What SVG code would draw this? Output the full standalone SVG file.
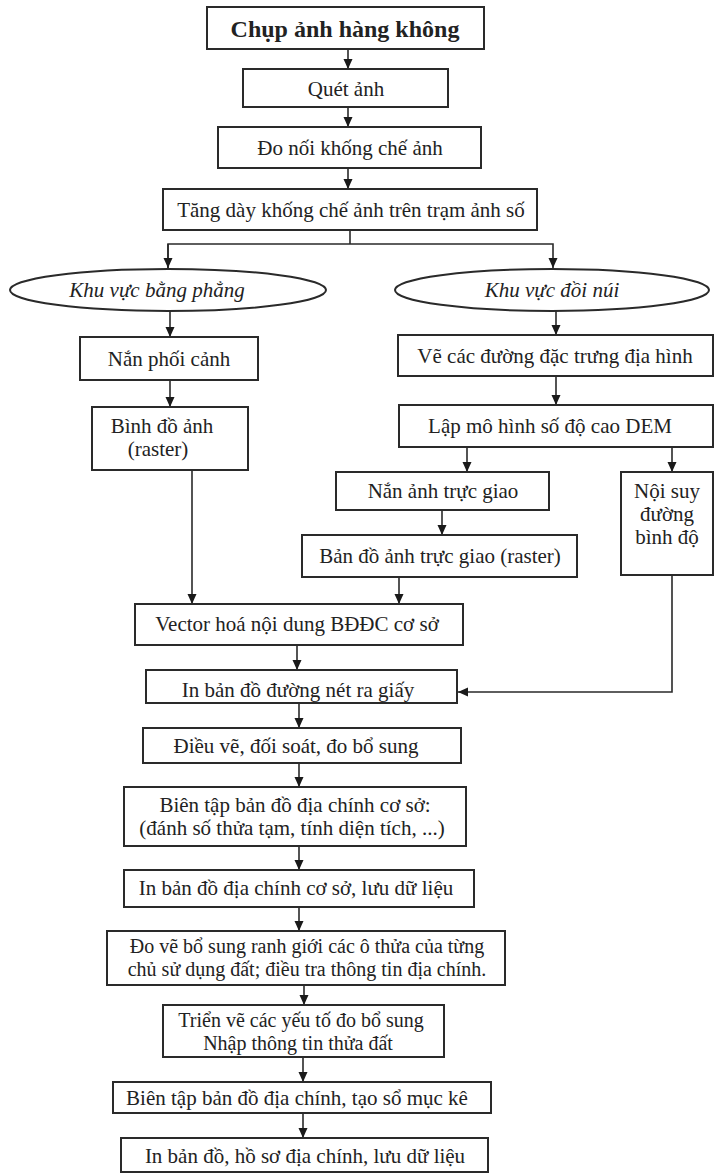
<svg xmlns="http://www.w3.org/2000/svg" width="715" height="1174" viewBox="0 0 715 1174">
<style>
.bg{fill:#ffffff}
.box{fill:#ffffff;stroke:#2a2a2a;stroke-width:2}
.t{font-family:"Liberation Serif","Times New Roman",serif;font-size:21px;fill:#222;text-anchor:middle}
.ti{font-style:italic}
.tb{font-weight:bold;font-size:24px}
.ts{font-size:20px}
.c{fill:none;stroke:#2a2a2a;stroke-width:1.6}
</style>
<defs>
<marker id="ah" markerUnits="userSpaceOnUse" markerWidth="10" markerHeight="10" refX="10" refY="5" orient="auto">
<path d="M0,0.5 L10,5 L0,9.5 z" fill="#1a1a1a"/>
</marker>
</defs>
<rect class="bg" x="0" y="0" width="715" height="1174"/>

<g id="connectors">
<line class="c" x1="348" y1="49" x2="348" y2="69" marker-end="url(#ah)"/>
<line class="c" x1="348" y1="107" x2="348" y2="127" marker-end="url(#ah)"/>
<line class="c" x1="348" y1="168" x2="348" y2="189" marker-end="url(#ah)"/>
<polyline class="c" points="350,230 350,244"/>
<polyline class="c" points="168,268 168,244 553,244 553,268" marker-end="url(#ah)"/>
<line class="c" x1="168" y1="244" x2="168" y2="268" marker-end="url(#ah)"/>
<line class="c" x1="170" y1="311" x2="170" y2="337" marker-end="url(#ah)"/>
<line class="c" x1="556" y1="311" x2="556" y2="335" marker-end="url(#ah)"/>
<line class="c" x1="170" y1="380" x2="170" y2="407" marker-end="url(#ah)"/>
<line class="c" x1="192" y1="470" x2="192" y2="604" marker-end="url(#ah)"/>
<line class="c" x1="556" y1="376" x2="556" y2="405" marker-end="url(#ah)"/>
<line class="c" x1="467" y1="447" x2="467" y2="472" marker-end="url(#ah)"/>
<line class="c" x1="672" y1="447" x2="672" y2="472" marker-end="url(#ah)"/>
<line class="c" x1="442" y1="510" x2="442" y2="535" marker-end="url(#ah)"/>
<line class="c" x1="399" y1="577" x2="399" y2="604" marker-end="url(#ah)"/>
<line class="c" x1="297" y1="645" x2="297" y2="670" marker-end="url(#ah)"/>
<polyline class="c" points="672,575 672,692 458,692" marker-end="url(#ah)"/>
<line class="c" x1="299" y1="703" x2="299" y2="728" marker-end="url(#ah)"/>
<line class="c" x1="299" y1="763" x2="299" y2="787" marker-end="url(#ah)"/>
<line class="c" x1="299" y1="846" x2="299" y2="870" marker-end="url(#ah)"/>
<line class="c" x1="299" y1="907" x2="299" y2="931" marker-end="url(#ah)"/>
<line class="c" x1="304" y1="985" x2="304" y2="1005" marker-end="url(#ah)"/>
<line class="c" x1="303" y1="1057" x2="303" y2="1082" marker-end="url(#ah)"/>
<line class="c" x1="303" y1="1113" x2="303" y2="1138" marker-end="url(#ah)"/>
</g>

<g id="n1"><rect class="box" x="207" y="7" width="277" height="42"/><text class="t tb" x="345" y="37">Chụp ảnh hàng không</text></g>
<g id="n2"><rect class="box" x="243" y="69" width="205" height="38"/><text class="t" x="346" y="96">Quét ảnh</text></g>
<g id="n3"><rect class="box" x="218" y="127" width="263" height="41"/><text class="t" x="350" y="155">Đo nối khống chế ảnh</text></g>
<g id="n4"><rect class="box" x="163" y="189" width="374" height="41"/><text class="t" x="351" y="217">Tăng dày khống chế ảnh trên trạm ảnh số</text></g>
<g id="e1"><ellipse class="box" cx="168" cy="290" rx="158" ry="21"/><text class="t ti" x="157" y="297">Khu vực bằng phẳng</text></g>
<g id="e2"><ellipse class="box" cx="552" cy="290" rx="157" ry="21"/><text class="t ti" x="552" y="297">Khu vực đồi núi</text></g>
<g id="n5"><rect class="box" x="80" y="337" width="178" height="43"/><text class="t" x="169" y="366">Nắn phối cảnh</text></g>
<g id="n6"><rect class="box" x="92" y="407" width="156" height="63"/><text class="t" x="162" y="433">Bình đồ ảnh</text><text class="t" x="158" y="456">(raster)</text></g>
<g id="n7"><rect class="box" x="398" y="335" width="315" height="41"/><text class="t" x="555" y="363">Vẽ các đường đặc trưng địa hình</text></g>
<g id="n8"><rect class="box" x="399" y="405" width="314" height="42"/><text class="t" x="550" y="433">Lập mô hình số độ cao DEM</text></g>
<g id="n9"><rect class="box" x="336" y="472" width="213" height="38"/><text class="t" x="443" y="498">Nắn ảnh trực giao</text></g>
<g id="n10"><rect class="box" x="621" y="472" width="92" height="103"/><text class="t" x="667" y="498">Nội suy</text><text class="t" x="667" y="521">đường</text><text class="t" x="667" y="544">bình độ</text></g>
<g id="n11"><rect class="box" x="302" y="535" width="275" height="42"/><text class="t" x="440" y="563">Bản đồ ảnh trực giao (raster)</text></g>
<g id="n12"><rect class="box" x="135" y="604" width="328" height="41"/><text class="t" x="297" y="631">Vector hoá nội dung BĐĐC cơ sở</text></g>
<g id="n13"><rect class="box" x="146" y="670" width="311" height="33"/><text class="t" x="298" y="697">In bản đồ đường nét ra giấy</text></g>
<g id="n14"><rect class="box" x="143" y="728" width="318" height="35"/><text class="t" x="296" y="753">Điều vẽ, đối soát, đo bổ sung</text></g>
<g id="n15"><rect class="box" x="124" y="787" width="342" height="59"/><text class="t" x="295" y="812">Biên tập bản đồ địa chính cơ sở:</text><text class="t" x="292" y="835">(đánh số thửa tạm, tính diện tích, ...)</text></g>
<g id="n16"><rect class="box" x="124" y="870" width="350" height="37"/><text class="t" x="296" y="895">In bản đồ địa chính cơ sở, lưu dữ liệu</text></g>
<g id="n17"><rect class="box" x="107" y="931" width="398" height="54"/><text class="t ts" x="307" y="953">Đo vẽ bổ sung ranh giới các ô thửa của từng</text><text class="t ts" x="307" y="976">chủ sử dụng đất; điều tra thông tin địa chính.</text></g>
<g id="n18"><rect class="box" x="163" y="1005" width="281" height="52"/><text class="t ts" x="301" y="1027">Triển vẽ các yếu tố đo bổ sung</text><text class="t ts" x="298" y="1050">Nhập thông tin thửa đất</text></g>
<g id="n19"><rect class="box" x="113" y="1082" width="378" height="31"/><text class="t" x="297" y="1105">Biên tập bản đồ địa chính, tạo sổ mục kê</text></g>
<g id="n20"><rect class="box" x="121" y="1138" width="367" height="34"/><text class="t" x="305" y="1163">In bản đồ, hồ sơ địa chính, lưu dữ liệu</text></g>
</svg>
